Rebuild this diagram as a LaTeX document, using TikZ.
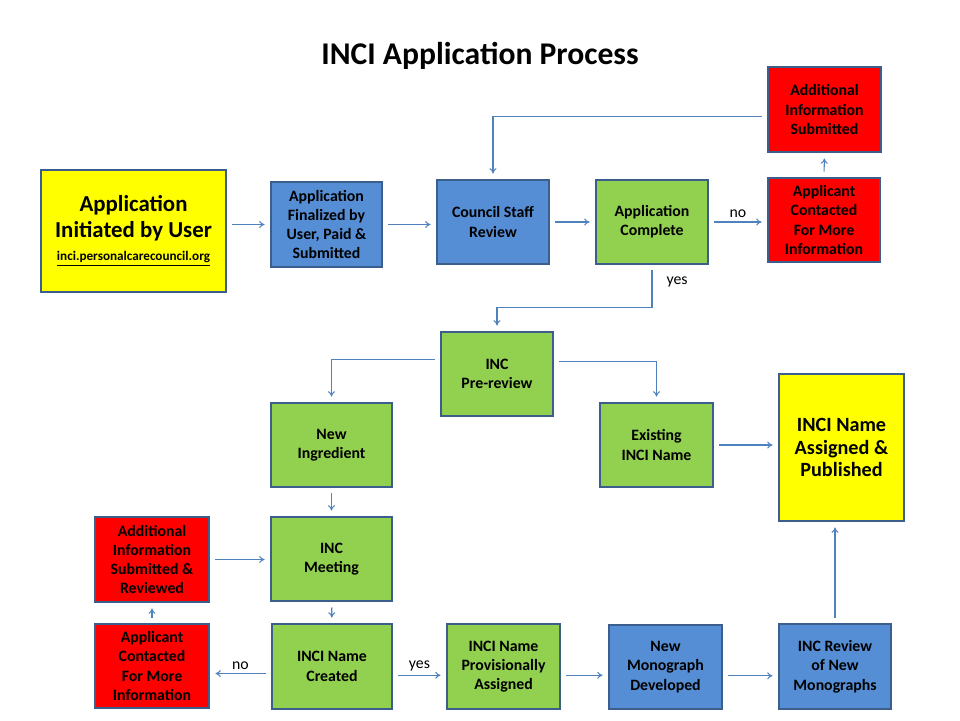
\documentclass[tikz,border=0pt]{standalone}
\usepackage{fontspec}
\setmainfont{Carlito}
\usetikzlibrary{arrows.meta}
\usetikzlibrary{positioning}
\definecolor{boxline}{HTML}{3B5E8C}
\definecolor{flowline}{HTML}{4F81BD}
\definecolor{stageblue}{HTML}{558ED5}
\definecolor{stagegreen}{HTML}{92D050}
\definecolor{stagered}{HTML}{FF0000}
\definecolor{stageyellow}{HTML}{FFFF00}

\begin{document}
\begin{tikzpicture}[x=0.02cm, y=-0.02cm,
    stage/.style={draw=boxline, line width=1.4pt, align=center, font=\fontsize{9}{11}\selectfont\bfseries, minimum width=2.24cm, minimum height=1.68cm, inner sep=1pt},
    bluestage/.style={stage, fill=stageblue},
    greenstage/.style={stage, fill=stagegreen},
    redstage/.style={stage, fill=stagered},
    yellowstage/.style={stage, fill=stageyellow},
    flow/.style={draw=flowline, line width=0.6pt, -{To[length=3pt, width=4pt]}, shorten >=3pt, shorten <=3pt},
    answer/.style={font=\fontsize{9}{11}\selectfont, inner sep=2pt}]

    \useasboundingbox[fill=white] (0,0) rectangle (960,720);

    \node[font=\fontsize{18}{22}\selectfont\bfseries] (title) at (480,56) {INCI Application Process};

    % top row
    \node[yellowstage, minimum width=3.7cm, minimum height=2.44cm, font=\fontsize{13}{14.8}\selectfont\bfseries] (init) at (133.5,231) {Application\\Initiated by User\\[-2pt]{\fontsize{7.5}{8}\selectfont\underline{inci.personalcarecouncil.org}}};
    \node[bluestage, minimum width=2.22cm, minimum height=1.7cm] (final) at (326.5,224.5) {Application\\Finalized by\\User, Paid \&\\Submitted};
    \node[bluestage] (council) at (493,222) {Council Staff\\Review};
    \node[greenstage] (complete) at (652,222) {Application\\Complete};
    \node[redstage] (contop) at (824,220) {Applicant\\Contacted\\For More\\Information};
    \node[redstage, minimum width=2.26cm, minimum height=1.7cm] (addltop) at (824.5,109.5) {Additional\\Information\\Submitted};

    % pre-review
    \node[greenstage] (prerev) at (497,374) {INC\\Pre-review};
    \node[greenstage, minimum width=2.42cm] (newing) at (331.5,445) {New\\Ingredient};
    \node[greenstage, minimum width=2.26cm] (existing) at (656.5,445) {Existing\\INCI Name};
    \node[yellowstage, minimum width=2.5cm, minimum height=2.94cm, font=\fontsize{11.5}{12.8}\selectfont\bfseries] (assigned) at (841.5,447.5) {INCI Name\\Assigned \&\\Published};

    % new ingredient branch
    \node[greenstage, minimum width=2.42cm] (meeting) at (331.5,559) {INC\\Meeting};
    \node[redstage, minimum width=2.28cm, minimum height=1.7cm] (addlbot) at (152,559.5) {Additional\\Information\\Submitted \&\\Reviewed};
    \node[redstage, minimum width=2.28cm] (conbot) at (152,666) {Applicant\\Contacted\\For More\\Information};
    \node[greenstage, minimum width=2.4cm, minimum height=1.7cm] (created) at (332,666.5) {INCI Name\\Created};
    \node[greenstage, minimum width=2.26cm, minimum height=1.7cm] (prov) at (503.5,666.5) {INCI Name\\Provisionally\\Assigned};
    \node[bluestage, minimum width=2.26cm] (mono) at (665.5,667) {New\\Monograph\\Developed};
    \node[bluestage, minimum height=1.7cm] (review) at (835,666.5) {INC Review\\of New\\Monographs};

    % connectors
    \draw[flow] (init.east |- final) -- (final.west);
    \draw[flow] (final.east) -- (final.east -| council.west);
    \draw[flow] (council.east) -- (complete.west);
    \draw[flow] (complete.east) -- node[answer, above] {no} (complete.east -| contop.west);
    \draw[flow] (contop.north) -- (addltop.south);
    \draw[flow] ([yshift=-4pt]addltop.west) -| (council.north);
    \draw[flow] (complete.south) -- node[answer, right, pos=0.4, xshift=6pt] {yes} ++(0,42) -| (prerev.north);
    \draw[flow] ([yshift=8pt]prerev.west) -| (newing.north);
    \draw[flow] ([yshift=7pt]prerev.east) -| (existing.north);
    \draw[flow] (existing.east) -- (existing.east -| assigned.west);
    \draw[flow] (newing) -- (meeting);
    \draw[flow] (addlbot.east) -- (addlbot.east -| meeting.west);
    \draw[flow] (meeting) -- (created);
    \draw[flow] ([yshift=-4pt]created.west) -- node[answer, above] {no} ([yshift=-4pt]created.west -| conbot.east);
    \draw[flow] (conbot) -- (addlbot);
    \draw[flow] ([yshift=-5pt]created.east) -- node[answer, above] {yes} ([yshift=-5pt]created.east -| prov.west);
    \draw[flow] ([yshift=-5pt]prov.east) -- ([yshift=-5pt]prov.east -| mono.west);
    \draw[flow] ([yshift=-5pt]mono.east) -- ([yshift=-5pt]mono.east -| review.west);
    \draw[flow] (review.north) -- (review.north |- assigned.south);
\end{tikzpicture}
\end{document}
